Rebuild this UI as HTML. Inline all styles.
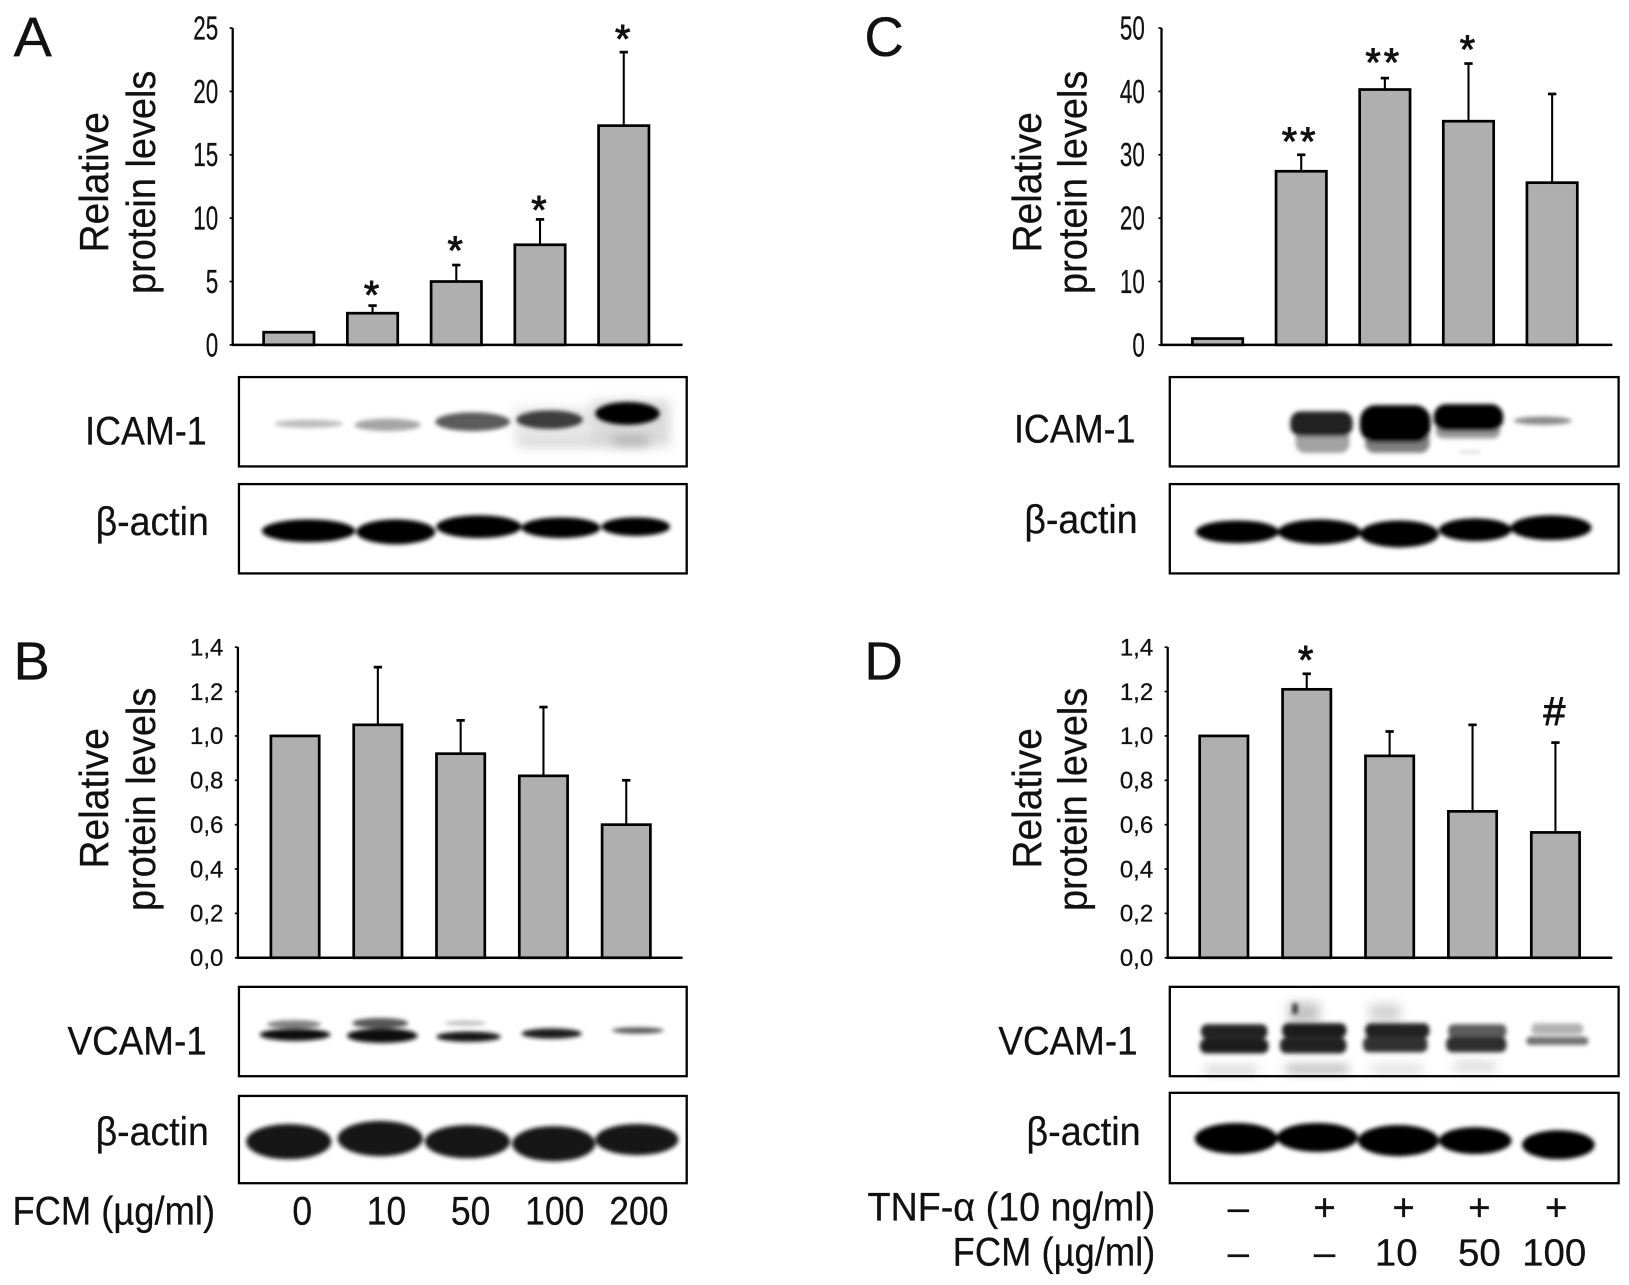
<!DOCTYPE html>
<html lang="en">
<head>
<meta charset="utf-8">
<title>Relative protein levels and immunoblots</title>
<style>
html,body{margin:0;padding:0;background:#fff;}
svg{display:block;}
text{font-family:"Liberation Sans","DejaVu Sans",sans-serif;fill:#111;stroke:#111;stroke-width:.25;}
.bandset{filter:url(#blur);}
</style>
</head>
<body>
<svg id="figure" xmlns="http://www.w3.org/2000/svg" width="1629" height="1285" viewBox="0 0 1568 1237" preserveAspectRatio="none">
<defs>
<filter id="blur" x="-10%" y="-30%" width="120%" height="160%"><feGaussianBlur stdDeviation="2"/></filter>
<filter id="softblur" x="-10%" y="-30%" width="120%" height="160%"><feGaussianBlur stdDeviation="5"/></filter>
</defs>
<rect x="0" y="0" width="1568" height="1237" fill="#fff"/>

<!-- panel letters -->
<text x="13" y="54" font-size="54" textLength="37" lengthAdjust="spacingAndGlyphs">A</text>
<text x="832" y="54" font-size="54" textLength="38" lengthAdjust="spacingAndGlyphs">C</text>
<text x="13" y="654" font-size="52" textLength="35" lengthAdjust="spacingAndGlyphs">B</text>
<text x="832" y="654" font-size="52" textLength="37" lengthAdjust="spacingAndGlyphs">D</text>

<!-- y-axis titles -->
<g>
<text transform="translate(104,243) rotate(-90)" font-size="39" textLength="135" lengthAdjust="spacingAndGlyphs">Relative</text>
<text transform="translate(149,283) rotate(-90)" font-size="39" textLength="215" lengthAdjust="spacingAndGlyphs">protein levels</text>
</g>
<g>
<text transform="translate(1002,243) rotate(-90)" font-size="39" textLength="135" lengthAdjust="spacingAndGlyphs">Relative</text>
<text transform="translate(1046,283) rotate(-90)" font-size="39" textLength="215" lengthAdjust="spacingAndGlyphs">protein levels</text>
</g>
<g>
<text transform="translate(104,836) rotate(-90)" font-size="39" textLength="135" lengthAdjust="spacingAndGlyphs">Relative</text>
<text transform="translate(149,877) rotate(-90)" font-size="39" textLength="215" lengthAdjust="spacingAndGlyphs">protein levels</text>
</g>
<g>
<text transform="translate(1002,836) rotate(-90)" font-size="39" textLength="135" lengthAdjust="spacingAndGlyphs">Relative</text>
<text transform="translate(1046,877) rotate(-90)" font-size="39" textLength="215" lengthAdjust="spacingAndGlyphs">protein levels</text>
</g>

<!-- blot labels -->
<text x="82" y="428" font-size="38" textLength="117" lengthAdjust="spacingAndGlyphs">ICAM-1</text>
<text x="92" y="515" font-size="38" textLength="109" lengthAdjust="spacingAndGlyphs">β-actin</text>
<text x="976" y="426" font-size="38" textLength="117" lengthAdjust="spacingAndGlyphs">ICAM-1</text>
<text x="986" y="513" font-size="38" textLength="109" lengthAdjust="spacingAndGlyphs">β-actin</text>
<text x="65" y="1015" font-size="38" textLength="134" lengthAdjust="spacingAndGlyphs">VCAM-1</text>
<text x="92" y="1102" font-size="38" textLength="109" lengthAdjust="spacingAndGlyphs">β-actin</text>
<text x="961" y="1015" font-size="38" textLength="134" lengthAdjust="spacingAndGlyphs">VCAM-1</text>
<text x="988" y="1102" font-size="38" textLength="110" lengthAdjust="spacingAndGlyphs">β-actin</text>

<!-- blot A ICAM -->
<g>
<g filter="url(#softblur)">
<rect x="495" y="392" width="150" height="36" fill="#e8e8e8"/>
<rect x="570" y="385" width="75" height="45" fill="#dadada"/>
<rect x="590" y="420" width="35" height="10" fill="#aaa"/>
<rect x="500" y="424" width="90" height="6" fill="#ccc"/>
</g>
<g class="bandset">
<ellipse cx="297" cy="408" rx="33" ry="4" fill="#bdbdbd"/>
<ellipse cx="373" cy="409" rx="32" ry="6" fill="#a6a6a6"/>
<ellipse cx="455" cy="406" rx="36" ry="9" fill="#5c5c5c"/>
<ellipse cx="529" cy="404" rx="32" ry="9" fill="#3c3c3c"/>
<ellipse cx="604" cy="398" rx="31" ry="11" fill="#060606"/>
</g>
<rect x="230" y="363" width="431" height="86" fill="none" stroke="#000" stroke-width="2.2"/>
</g>
<!-- blot A actin -->
<g>
<g class="bandset" fill="#050505">
<ellipse cx="297" cy="511" rx="45" ry="11"/>
<ellipse cx="381" cy="512" rx="38" ry="12"/>
<ellipse cx="461" cy="507" rx="41" ry="11"/>
<ellipse cx="540" cy="508" rx="38" ry="10"/>
<ellipse cx="612" cy="507" rx="33" ry="9"/>
</g>
<rect x="230" y="466" width="431" height="86" fill="none" stroke="#000" stroke-width="2.2"/>
</g>
<!-- blot C ICAM -->
<g>
<g class="bandset">
<rect x="1247" y="412" width="52" height="24" rx="9" fill="#a2a2a2"/>
<rect x="1242" y="396" width="60" height="24" rx="10" fill="#222"/>
<rect x="1314" y="412" width="62" height="24" rx="9" fill="#808080"/>
<rect x="1309" y="390" width="68" height="36" rx="15" fill="#020202"/>
<rect x="1382" y="406" width="62" height="16" rx="7" fill="#999"/>
<rect x="1380" y="389" width="67" height="26" rx="12" fill="#020202"/>
<ellipse cx="1485" cy="405" rx="28" ry="4" fill="#8a8a8a"/>
<rect x="1405" y="434" width="20" height="2" fill="#ccc"/>
</g>
<rect x="1126" y="363" width="432" height="86" fill="none" stroke="#000" stroke-width="2.2"/>
</g>
<!-- blot C actin -->
<g>
<g class="bandset" fill="#050505">
<ellipse cx="1191" cy="512" rx="40" ry="11"/>
<ellipse cx="1270" cy="512" rx="40" ry="12"/>
<ellipse cx="1347" cy="514" rx="38" ry="13"/>
<ellipse cx="1420" cy="510" rx="35" ry="11"/>
<ellipse cx="1493" cy="508" rx="39" ry="12"/>
</g>
<rect x="1126" y="466" width="432" height="86" fill="none" stroke="#000" stroke-width="2.2"/>
</g>
<!-- blot B VCAM -->
<g>
<g class="bandset">
<ellipse cx="283" cy="986" rx="26" ry="4" fill="#808080"/>
<ellipse cx="366" cy="985" rx="27" ry="5" fill="#555"/>
<ellipse cx="448" cy="985" rx="20" ry="2.5" fill="#c0c0c0"/>
<ellipse cx="284" cy="996" rx="34" ry="6" fill="#111"/>
<ellipse cx="368" cy="997" rx="34" ry="7" fill="#0a0a0a"/>
<ellipse cx="451" cy="998" rx="31" ry="5" fill="#181818"/>
<ellipse cx="531" cy="995" rx="29" ry="5" fill="#1a1a1a"/>
<ellipse cx="614" cy="992" rx="25" ry="3" fill="#555"/>
</g>
<rect x="230" y="950" width="431" height="86" fill="none" stroke="#000" stroke-width="2.2"/>
</g>
<!-- blot B actin -->
<g>
<g class="bandset" fill="#141414">
<ellipse cx="278" cy="1099" rx="41" ry="17"/>
<ellipse cx="366" cy="1096" rx="41" ry="17"/>
<ellipse cx="450" cy="1099" rx="41" ry="16"/>
<ellipse cx="533" cy="1101" rx="40" ry="17"/>
<ellipse cx="613" cy="1097" rx="40" ry="15"/>
</g>
<rect x="230" y="1055" width="431" height="84" fill="none" stroke="#000" stroke-width="2.2"/>
</g>
<!-- blot D VCAM -->
<g>
<g filter="url(#softblur)">
<rect x="1240" y="965" width="30" height="20" fill="#c4c4c4"/>
<rect x="1318" y="966" width="30" height="18" fill="#d4d4d4"/>
<rect x="1160" y="1028" width="50" height="4" fill="#aaa"/>
<rect x="1238" y="1026" width="60" height="6" fill="#999"/>
<rect x="1320" y="1027" width="50" height="4" fill="#bbb"/>
<rect x="1400" y="1024" width="40" height="5" fill="#bbb"/>
</g>
<g class="bandset">
<rect x="1244" y="966" width="5" height="10" fill="#333"/>
<rect x="1156" y="986" width="64" height="14" rx="6" fill="#222"/>
<rect x="1155" y="1000" width="66" height="14" rx="6" fill="#1c1c1c"/>
<rect x="1234" y="985" width="62" height="14" rx="6" fill="#1c1c1c"/>
<rect x="1232" y="999" width="64" height="15" rx="6" fill="#222"/>
<rect x="1314" y="985" width="62" height="14" rx="6" fill="#222"/>
<rect x="1312" y="998" width="62" height="15" rx="6" fill="#303030"/>
<rect x="1394" y="986" width="56" height="13" rx="5" fill="#5c5c5c"/>
<rect x="1392" y="998" width="58" height="15" rx="6" fill="#2e2e2e"/>
<rect x="1474" y="985" width="50" height="11" rx="5" fill="#b2b2b2"/>
<rect x="1469" y="998" width="60" height="8" rx="4" fill="#707070"/>
</g>
<rect x="1126" y="950" width="432" height="86" fill="none" stroke="#000" stroke-width="2.2"/>
</g>
<!-- blot D actin -->
<g>
<g class="bandset" fill="#030303">
<ellipse cx="1190" cy="1096" rx="40" ry="15"/>
<ellipse cx="1268" cy="1095" rx="39" ry="14"/>
<ellipse cx="1346" cy="1098" rx="39" ry="15"/>
<ellipse cx="1420" cy="1098" rx="35" ry="13"/>
<ellipse cx="1500" cy="1102" rx="35" ry="14"/>
</g>
<rect x="1126" y="1052" width="432" height="87" fill="none" stroke="#000" stroke-width="2.2"/>
</g>

<!-- D treatment rows -->
<g font-size="37" text-anchor="middle">
<text x="835" y="1175" text-anchor="start" font-size="38" textLength="277" lengthAdjust="spacingAndGlyphs">TNF-α (10 ng/ml)</text>
<text x="917" y="1218" text-anchor="start" font-size="38" textLength="195" lengthAdjust="spacingAndGlyphs">FCM (µg/ml)</text>
<text x="1192" y="1175">–</text>
<text x="1275" y="1175">+</text>
<text x="1351" y="1175">+</text>
<text x="1424" y="1175">+</text>
<text x="1498" y="1175">+</text>
<text x="1192" y="1218">–</text>
<text x="1275" y="1218">–</text>
<text x="1344" y="1218">10</text>
<text x="1424" y="1218">50</text>
<text x="1496" y="1218">100</text>
</g>
<text x="12" y="1179" font-size="38" textLength="195" lengthAdjust="spacingAndGlyphs">FCM (µg/ml)</text>

<g id="charts"></g>
</svg>
<script>
/* Panel A */
const panelACategories = ['0', '10', '50', '100', '200'];
const panelAValues = [1.0, 2.5, 5.0, 7.9, 17.3];
const panelAErrorTops = [null, 3.1, 6.3, 9.9, 23.1];
const panelATickLabels = ['0', '5', '10', '15', '20', '25'];
const panelAMarks = ['', '*', '*', '*', '*'];
const panelAMarkLevels = [null, 4.6, 8.1, 11.3, 24.8];

/* Panel B */
const panelBCategories = ['0', '10', '50', '100', '200'];
const panelBValues = [1.0, 1.05, 0.92, 0.82, 0.6];
const panelBErrorTops = [null, 1.31, 1.07, 1.13, 0.8];
const panelBTickLabels = ['0,0', '0,2', '0,4', '0,6', '0,8', '1,0', '1,2', '1,4'];
const panelBMarks = ['', '', '', '', ''];
const panelBMarkLevels = [null, null, null, null, null];

/* Panel C */
const panelCCategories = ['control', 'TNF', 'TNF+10', 'TNF+50', 'TNF+100'];
const panelCValues = [1.0, 27.4, 40.3, 35.3, 25.6];
const panelCErrorTops = [null, 30.0, 42.1, 44.4, 39.6];
const panelCTickLabels = ['0', '10', '20', '30', '40', '50'];
const panelCMarks = ['', '**', '**', '*', ''];
const panelCMarkLevels = [null, 33.4, 45.9, 47.9, null];

/* Panel D */
const panelDCategories = ['control', 'TNF', 'TNF+10', 'TNF+50', 'TNF+100'];
const panelDValues = [1.0, 1.21, 0.91, 0.66, 0.565];
const panelDErrorTops = [null, 1.28, 1.02, 1.05, 0.97];
const panelDTickLabels = ['0,0', '0,2', '0,4', '0,6', '0,8', '1,0', '1,2', '1,4'];
const panelDMarks = ['', '*', '', '', '#'];
const panelDMarkLevels = [null, 1.38, null, null, 1.11];

const NS = 'http://www.w3.org/2000/svg';
const chartsRoot = document.getElementById('charts');

function svgEl(tag, attrs, parent) {
  const el = document.createElementNS(NS, tag);
  for (const k in attrs) el.setAttribute(k, attrs[k]);
  parent.appendChild(el);
  return el;
}

function drawPanel(p) {
  const yScale = v => p.y0 - (v / p.yMax) * (p.y0 - p.yTop);
  const xBand = i => p.firstX + i * p.stepX;

  const g = svgEl('g', {}, chartsRoot);
  
  

  p.values.forEach((v, i) => {
    const cx = xBand(i);
    const top = p.errorTops[i];
    if (top !== null) {
      const err = svgEl('g', {}, g);
      
      
      svgEl('line', { x1: cx, x2: cx, y1: yScale(v), y2: yScale(top), stroke: '#000', 'stroke-width': 2 }, err);
      svgEl('line', { x1: cx - 4, x2: cx + 4, y1: yScale(top), y2: yScale(top), stroke: '#000', 'stroke-width': 2.6 }, err);
    }
    const bar = svgEl('rect', {
      x: cx - p.barWidth / 2, y: yScale(v), width: p.barWidth, height: p.y0 - yScale(v),
      fill: '#afafaf', stroke: '#000', 'stroke-width': 2.6
    }, g);
    
    

    if (p.marks[i]) {
      const isHash = p.marks[i] === '#';
      const fs = isHash ? 38 : 38;
      const offset = isHash ? 13 : 21;
      const mark = svgEl('text', {
        x: cx - 1, y: yScale(p.markLevels[i]) + offset, 'font-size': fs,
        'text-anchor': 'middle', 'letter-spacing': p.marks[i] === '**' ? 3 : 0,
        'stroke-width': 0.9
      }, g);
      mark.style.strokeWidth = '0.9px';
      mark.textContent = p.marks[i];
      
      
    }
  });

  const yAxis = svgEl('line', { x1: p.axisX, x2: p.axisX, y1: p.yTop, y2: p.y0 + 1, stroke: '#000', 'stroke-width': 2.2 }, g);
  
  
  const xAxis = svgEl('line', { x1: p.axisX - 1, x2: p.axisRight, y1: p.y0, y2: p.y0, stroke: '#000', 'stroke-width': 2.4 }, g);
  
  

  p.tickLabels.forEach(label => {
    const v = parseFloat(label.replace(',', '.'));
    const y = yScale(v);
    const tick = svgEl('line', { x1: p.axisX - 3, x2: p.axisX, y1: y, y2: y, stroke: '#000', 'stroke-width': 1.6 }, g);
    
    
    const t = svgEl('text', {
      x: p.labelRight, y: y + p.labelDy, 'font-size': p.labelSize, 'text-anchor': 'end',
      textLength: label.length * p.labelCharW, lengthAdjust: 'spacingAndGlyphs'
    }, g);
    t.textContent = label;
    
    
  });
}

drawPanel({ categories: panelACategories, values: panelAValues, errorTops: panelAErrorTops, tickLabels: panelATickLabels,
  marks: panelAMarks, markLevels: panelAMarkLevels, yMax: 25, y0: 332, yTop: 27, axisX: 224, axisRight: 657,
  firstX: 278, stepX: 80.6, barWidth: 48.5, labelRight: 210, labelDy: 11, labelSize: 32, labelCharW: 12 });
drawPanel({ categories: panelCCategories, values: panelCValues, errorTops: panelCErrorTops, tickLabels: panelCTickLabels,
  marks: panelCMarks, markLevels: panelCMarkLevels, yMax: 50, y0: 332, yTop: 27, axisX: 1118, axisRight: 1552,
  firstX: 1172, stepX: 80.5, barWidth: 48.5, labelRight: 1102, labelDy: 11, labelSize: 32, labelCharW: 12 });
drawPanel({ categories: panelBCategories, values: panelBValues, errorTops: panelBErrorTops, tickLabels: panelBTickLabels,
  marks: panelBMarks, markLevels: panelBMarkLevels, yMax: 1.4, y0: 922, yTop: 623, axisX: 229, axisRight: 657,
  firstX: 284, stepX: 79.7, barWidth: 46.5, labelRight: 215, labelDy: 8, labelSize: 23, labelCharW: 10.7 });
drawPanel({ categories: panelDCategories, values: panelDValues, errorTops: panelDErrorTops, tickLabels: panelDTickLabels,
  marks: panelDMarks, markLevels: panelDMarkLevels, yMax: 1.4, y0: 922, yTop: 623, axisX: 1124, axisRight: 1552,
  firstX: 1178, stepX: 79.8, barWidth: 46.5, labelRight: 1110, labelDy: 8, labelSize: 23, labelCharW: 10.7 });

/* Panel B dose labels come from its categories */
panelBCategories.forEach((c, i) => {
  const t = svgEl('text', {
    x: 291 + i * 81, y: 1179, 'font-size': 38, 'text-anchor': 'middle',
    textLength: c.length * 19, lengthAdjust: 'spacingAndGlyphs'
  }, chartsRoot);
  t.textContent = c;
  
  
});
</script>
</body>
</html>
